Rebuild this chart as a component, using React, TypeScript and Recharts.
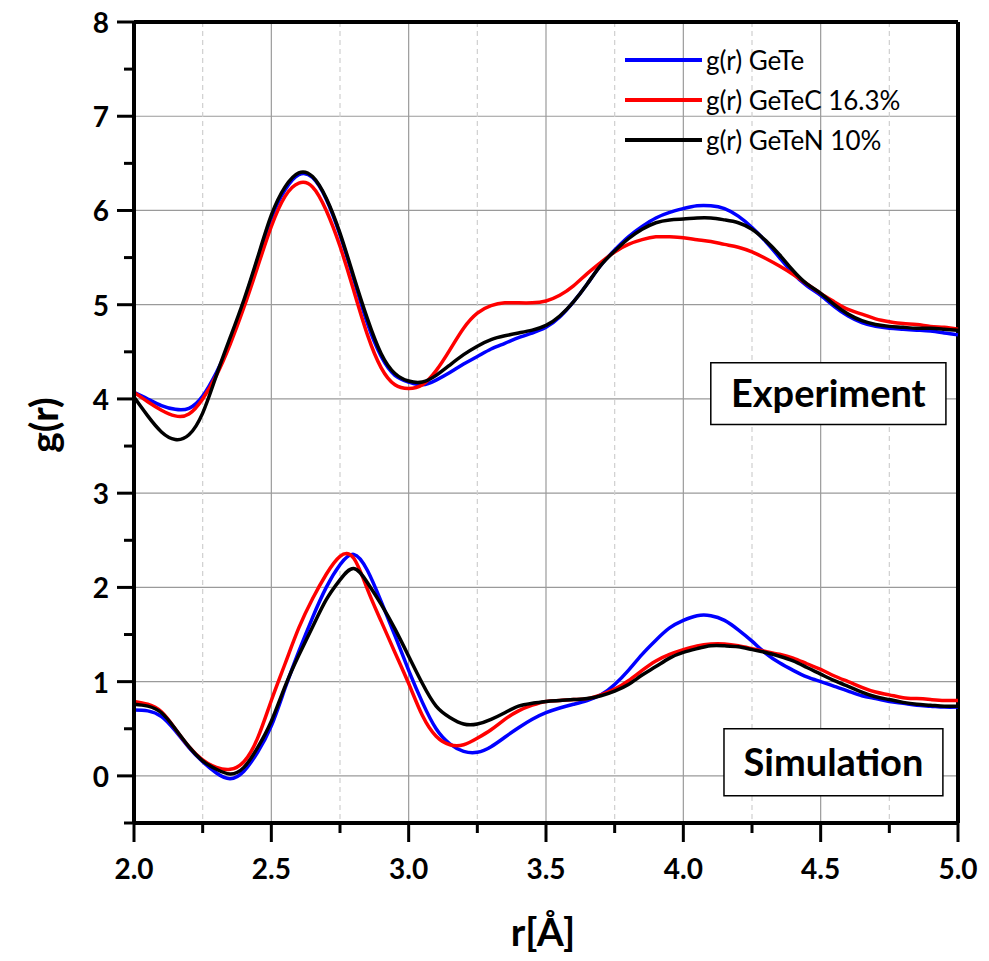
import React from 'react';
import { LineChart, Line, XAxis, YAxis, CartesianGrid, ReferenceLine, ReferenceArea, Legend, Label } from 'recharts';

// r values in Å
const R = [
  2.0, 2.05, 2.1, 2.15, 2.2, 2.25, 2.3, 2.35, 2.4, 2.45,
  2.5, 2.55, 2.6, 2.65, 2.7, 2.75, 2.8, 2.85, 2.9, 2.95,
  3.0, 3.05, 3.1, 3.15, 3.2, 3.25, 3.3, 3.35, 3.4, 3.45,
  3.5, 3.55, 3.6, 3.65, 3.7, 3.75, 3.8, 3.85, 3.9, 3.95,
  4.0, 4.05, 4.1, 4.15, 4.2, 4.25, 4.3, 4.35, 4.4, 4.45,
  4.5, 4.55, 4.6, 4.65, 4.7, 4.75, 4.8, 4.85, 4.9, 4.95, 5.0,
];

// experiment (offset curves)
const EXP_GETE = [
  4.07, 4.0, 3.93, 3.89, 3.9, 4.03, 4.28, 4.6, 5.02, 5.48,
  5.92, 6.22, 6.38, 6.35, 6.12, 5.74, 5.27, 4.8, 4.45, 4.25,
  4.18, 4.15, 4.2, 4.28, 4.37, 4.45, 4.53, 4.59, 4.65, 4.7,
  4.76, 4.87, 5.03, 5.22, 5.42, 5.58, 5.72, 5.83, 5.92, 5.98,
  6.02, 6.05, 6.05, 6.02, 5.94, 5.82, 5.67, 5.5, 5.33, 5.2,
  5.1, 4.98, 4.88, 4.81, 4.77, 4.75, 4.74, 4.73, 4.72, 4.7, 4.68,
];
const EXP_GETEC = [
  4.07, 3.97, 3.88, 3.82, 3.84, 4.0, 4.25, 4.58, 4.97, 5.4,
  5.83, 6.15, 6.29, 6.25, 6.0, 5.62, 5.15, 4.68, 4.33, 4.15,
  4.11, 4.15, 4.3, 4.52, 4.75, 4.91, 4.99, 5.02, 5.02, 5.02,
  5.04, 5.1, 5.2, 5.33, 5.45, 5.56, 5.64, 5.69, 5.72, 5.72,
  5.71, 5.69, 5.67, 5.64, 5.61, 5.56, 5.49, 5.41, 5.32, 5.22,
  5.12, 5.03, 4.95, 4.9, 4.85, 4.82, 4.8, 4.79, 4.77, 4.76, 4.74,
];
const EXP_GETEN = [
  4.02, 3.82, 3.65, 3.57, 3.62, 3.85, 4.25, 4.65, 5.05, 5.5,
  5.95, 6.25, 6.4, 6.36, 6.13, 5.76, 5.3, 4.85, 4.48, 4.27,
  4.19, 4.18, 4.25, 4.36, 4.47, 4.56, 4.63, 4.67, 4.7, 4.73,
  4.78, 4.88, 5.03, 5.22, 5.42, 5.57, 5.7, 5.8, 5.87, 5.9,
  5.91, 5.92, 5.92, 5.9, 5.87, 5.8, 5.68, 5.53, 5.36, 5.22,
  5.12, 5.0, 4.9, 4.83, 4.79, 4.77, 4.76, 4.75, 4.75, 4.74, 4.73,
];

// simulation
const SIM_GETE = [
  0.7, 0.69, 0.63, 0.48, 0.3, 0.15, 0.03, -0.03, 0.05, 0.25,
  0.53, 0.93, 1.32, 1.68, 2.0, 2.24, 2.35, 2.18, 1.85, 1.49,
  1.12, 0.78, 0.5, 0.34, 0.26, 0.25, 0.31, 0.41, 0.51, 0.6,
  0.67, 0.72, 0.76, 0.8, 0.86, 0.97, 1.12, 1.29, 1.44, 1.57,
  1.65, 1.7, 1.7, 1.65, 1.55, 1.43, 1.3, 1.2, 1.12, 1.05,
  1.0, 0.95, 0.9, 0.85, 0.82, 0.79, 0.77, 0.75, 0.74, 0.73, 0.73,
];
const SIM_GETEC = [
  0.79, 0.76, 0.68, 0.5, 0.31, 0.17, 0.09, 0.07, 0.15, 0.4,
  0.8, 1.19, 1.57, 1.88, 2.14, 2.33, 2.31, 1.98, 1.64, 1.31,
  0.98, 0.64, 0.42, 0.33, 0.33, 0.4, 0.49, 0.6, 0.69, 0.75,
  0.79, 0.8, 0.81, 0.82, 0.86, 0.92, 1.01, 1.12, 1.22, 1.29,
  1.34, 1.38, 1.4, 1.4, 1.38, 1.35, 1.32, 1.29, 1.25, 1.19,
  1.13, 1.06, 1.0, 0.94, 0.89, 0.86, 0.83, 0.82, 0.81, 0.8, 0.8,
];
const SIM_GETEN = [
  0.76, 0.74, 0.67, 0.5, 0.31, 0.16, 0.07, 0.02, 0.09, 0.3,
  0.58, 0.95, 1.28, 1.58, 1.87, 2.08, 2.2, 2.05, 1.82, 1.56,
  1.27, 0.98, 0.74, 0.62, 0.55, 0.55, 0.6, 0.67, 0.74, 0.77,
  0.79, 0.8, 0.81, 0.82, 0.85, 0.9, 0.97, 1.07, 1.16, 1.25,
  1.31, 1.35, 1.38, 1.38, 1.37, 1.34, 1.31, 1.27, 1.22, 1.15,
  1.08, 1.01, 0.95, 0.89, 0.84, 0.81, 0.78, 0.76, 0.75, 0.74, 0.74,
];

const X_TICKS = [2, 2.25, 2.5, 2.75, 3, 3.25, 3.5, 3.75, 4, 4.25, 4.5, 4.75, 5];
const X_MAJOR = [2, 2.5, 3, 3.5, 4, 4.5, 5];
const X_MINOR = [2.25, 2.75, 3.25, 3.75, 4.25, 4.75];
const Y_TICKS = [-0.5, 0, 0.5, 1, 1.5, 2, 2.5, 3, 3.5, 4, 4.5, 5, 5.5, 6, 6.5, 7, 7.5, 8];
const Y_MAJOR = [0, 1, 2, 3, 4, 5, 6, 7, 8];

const LEGEND = [
  { name: 'g(r) GeTe', color: '#0000ff' },
  { name: 'g(r) GeTeC 16.3%', color: '#ff0000' },
  { name: 'g(r) GeTeN 10%', color: '#000000' },
];

const data = R.map((r, i) => ({
  r,
  eGeTe: EXP_GETE[i], eGeTeC: EXP_GETEC[i], eGeTeN: EXP_GETEN[i],
  sGeTe: SIM_GETE[i], sGeTeC: SIM_GETEC[i], sGeTeN: SIM_GETEN[i],
}));

const YTick = ({ x, y, payload }: any) => {
  const v = payload.value;
  const major = Number.isInteger(v);
  return (
    <g>
      <line x1={x} x2={x - (major ? 17 : 10)} y1={y} y2={y} stroke="#000" strokeWidth={3} />
      {major && (
        <text x={x - 25} y={y} textAnchor="end" dominantBaseline="central" fontSize={28} fontWeight={700} fill="#000">
          {v}
        </text>
      )}
    </g>
  );
};

const XTick = ({ x, y, payload }: any) => {
  const v = payload.value;
  const major = X_MAJOR.includes(v);
  return (
    <g>
      <line x1={x} x2={x} y1={y} y2={y + (major ? 19 : 10)} stroke="#000" strokeWidth={3} />
      {major && (
        <text x={x} y={y + 45} textAnchor="middle" dominantBaseline="central" fontSize={28} fontWeight={700} fill="#000">
          {v.toFixed(1)}
        </text>
      )}
    </g>
  );
};

const LegendBox = () => (
  <div style={{ display: 'flex', flexDirection: 'column' }}>
    {LEGEND.map((l) => (
      <div key={l.name} style={{ display: 'flex', alignItems: 'center', height: 40 }}>
        <div style={{ width: 77, height: 4, background: l.color, marginRight: 4 }} />
        <span style={{ fontSize: 26, color: '#000', whiteSpace: 'nowrap' }}>{l.name}</span>
      </div>
    ))}
  </div>
);

const boxLabel = (text: string) => ({
  value: text, position: 'center' as const, fontSize: 38, fontWeight: 700, fill: '#000',
});

export default function App() {
  return (
    <div style={{ width: 975, height: 958, marginTop: -8, fontFamily: 'Lato, "Open Sans", sans-serif' }}>
      <LineChart width={975} height={958} data={data} margin={{ top: 22, right: 25, left: 0, bottom: 55 }}>
        <CartesianGrid stroke="#9a9a9a" strokeWidth={1.2} horizontalValues={Y_MAJOR} verticalValues={X_MAJOR} />
        <CartesianGrid stroke="#cfcfcf" strokeWidth={1.2} strokeDasharray="5 4" horizontal={false} verticalValues={X_MINOR} />
        <XAxis
          dataKey="r" type="number" domain={[2, 5]} ticks={X_TICKS} interval={0}
          height={80} tickSize={0} tickMargin={0} tickLine={false}
          axisLine={{ stroke: '#000', strokeWidth: 4 }} tick={<XTick />}
        >
          <Label
            content={() => (
              <text x={535} y={931} textAnchor="middle" dominantBaseline="central" fontSize={39} fontWeight={700} fill="#000">
                r[Å]
              </text>
            )}
          />
        </XAxis>
        <YAxis
          type="number" domain={[-0.5, 8]} ticks={Y_TICKS} interval={0}
          width={126} tickSize={0} tickMargin={0} tickLine={false}
          axisLine={{ stroke: '#000', strokeWidth: 4 }} tick={<YTick />}
        >
          <Label
            content={() => (
              <text x={35} y={425} textAnchor="middle" dominantBaseline="central" fontSize={39} fontWeight={700} fill="#000" transform="rotate(-90 35 425)">
                g(r)
              </text>
            )}
          />
        </YAxis>
        <ReferenceLine y={8} stroke="#000" strokeWidth={4} />
        <ReferenceLine x={5} stroke="#000" strokeWidth={4} />
        <ReferenceArea x1={4.1} x2={4.956} y1={3.73} y2={4.385} fill="#fff" fillOpacity={1} stroke="#000" strokeWidth={1.5} label={boxLabel('Experiment')} />
        <ReferenceArea x1={4.148} x2={4.945} y1={-0.21} y2={0.5} fill="#fff" fillOpacity={1} stroke="#000" strokeWidth={1.5} label={boxLabel('Simulation')} />
        <Legend
          layout="horizontal" verticalAlign="middle" align="center"
          wrapperStyle={{ top: 40, left: 617, width: 340 }}
          content={<LegendBox />}
        />
        <Line type="natural" dataKey="eGeTe" stroke="#0000ff" strokeWidth={3.5} dot={false} isAnimationActive={false} />
        <Line type="natural" dataKey="eGeTeC" stroke="#ff0000" strokeWidth={3.5} dot={false} isAnimationActive={false} />
        <Line type="natural" dataKey="eGeTeN" stroke="#000000" strokeWidth={3.5} dot={false} isAnimationActive={false} />
        <Line type="natural" dataKey="sGeTe" stroke="#0000ff" strokeWidth={3.5} dot={false} isAnimationActive={false} />
        <Line type="natural" dataKey="sGeTeC" stroke="#ff0000" strokeWidth={3.5} dot={false} isAnimationActive={false} />
        <Line type="natural" dataKey="sGeTeN" stroke="#000000" strokeWidth={3.5} dot={false} isAnimationActive={false} />
      </LineChart>
    </div>
  );
}
